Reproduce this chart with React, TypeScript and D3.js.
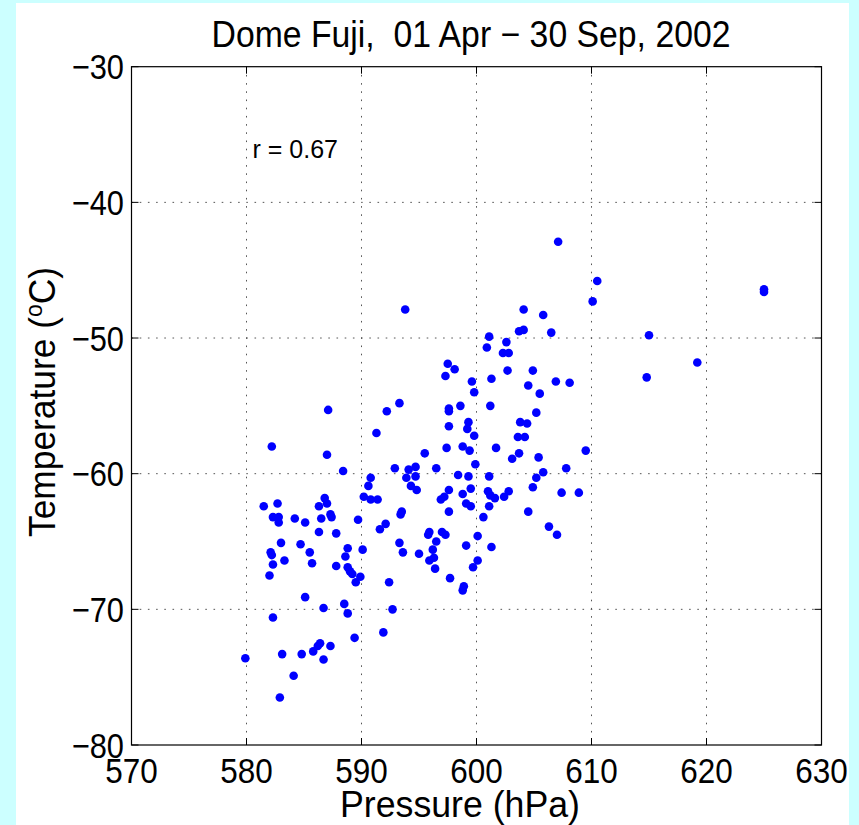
import React from "react";
import * as d3 from "d3";

const pressure = [
  591.3, 582.2, 587.0, 595.5, 588.4, 592.9, 594.1, 594.7, 593.9, 594.7,
  590.8, 590.6, 594.3, 594.8, 590.2, 590.8, 591.4, 586.8, 587.0, 582.7,
  581.5, 586.3, 593.5, 593.4, 582.3, 582.8, 582.8, 584.2, 585.1, 586.5,
  587.3, 587.4, 589.7, 592.1, 591.6, 595.9, 595.8, 586.3, 587.8, 583.0,
  584.7, 582.1, 582.2, 585.5, 588.8, 588.6, 590.1, 593.3, 593.6, 595.0,
  595.9, 583.3, 582.3, 585.7, 587.8, 588.8, 589.0, 589.2, 589.9, 589.5,
  582.0, 592.4, 585.1, 588.5, 586.7, 588.8, 592.7, 582.3, 591.9, 589.4,
  586.4, 586.2, 587.3, 585.8, 583.1, 584.8, 579.9, 586.7, 584.1, 582.9,
  593.8, 587.1, 592.2, 593.3,
  607.1, 610.5, 610.1, 604.1, 605.8, 603.7, 604.1, 606.5, 601.1, 602.6,
  600.9, 602.3, 602.8, 597.5, 598.1, 597.3, 602.7, 604.9, 601.3, 599.6,
  599.8, 604.5, 606.9, 608.1, 605.5, 598.6, 597.6, 597.6, 601.2, 605.2,
  599.3, 599.2, 597.6, 603.8, 604.4, 599.8, 603.6, 604.2, 598.8, 599.4,
  597.4, 601.7, 603.7, 603.1, 605.4, 609.5, 599.9, 596.5, 607.8, 598.4,
  599.3, 601.1, 605.8, 605.2,
  604.9, 597.6, 597.2, 596.9, 598.8, 599.5, 601.0, 601.2, 601.6, 602.4,
  602.8, 607.4, 608.9, 599.1, 599.5, 601.1, 597.6, 600.6, 604.5, 606.3,
  607.0, 597.0, 597.3, 600.1, 596.5, 599.1, 601.3, 596.2, 596.3, 600.1,
  599.7, 596.4, 597.7, 598.9, 598.8,
  615.0, 619.2, 614.8, 625.0, 625.0,
];

const temperature = [
  -57.0, -58.0, -58.6, -58.5, -59.8, -59.6, -59.7, -59.5, -60.3, -60.2,
  -60.3, -60.9, -60.9, -61.2, -61.7, -61.9, -61.9, -61.8, -62.2, -62.2,
  -62.4, -62.4, -62.8, -63.0, -63.2, -63.2, -63.6, -63.3, -63.6, -63.3,
  -63.0, -63.2, -63.4, -63.7, -64.1, -64.3, -64.5, -64.3, -64.4, -65.1,
  -65.2, -65.8, -66.0, -65.8, -65.5, -66.1, -65.6, -65.1, -65.8, -65.9,
  -66.4, -66.4, -66.7, -66.6, -66.8, -66.9, -67.2, -67.4, -67.6, -68.0,
  -67.5, -68.0, -69.1, -69.6, -69.9, -70.3, -70.0, -70.6, -71.7, -72.1,
  -72.5, -72.7, -72.7, -73.1, -73.3, -73.3, -73.6, -73.7, -74.9, -76.5,
  -47.9, -55.3, -55.4, -54.8,
  -42.9, -45.8, -47.3, -47.9, -48.3, -49.5, -49.4, -49.6, -49.9, -50.3,
  -50.7, -51.1, -51.1, -51.9, -52.3, -52.8, -52.4, -52.4, -53.0, -53.2,
  -54.0, -53.5, -53.2, -53.3, -54.1, -55.0, -55.2, -55.4, -55.0, -55.5,
  -56.2, -56.7, -56.5, -56.2, -56.3, -57.2, -57.3, -57.3, -58.0, -58.3,
  -58.1, -58.1, -58.5, -58.9, -58.8, -58.3, -59.3, -59.6, -59.6, -60.1,
  -60.2, -60.2, -59.9, -60.3,
  -61.0, -61.2, -61.7, -61.9, -61.5, -61.1, -61.3, -61.6, -61.8, -61.7,
  -61.3, -61.4, -61.4, -62.2, -62.4, -62.4, -62.8, -63.2, -62.8, -63.9,
  -64.5, -64.3, -64.5, -64.6, -65.0, -65.3, -65.4, -65.6, -66.2, -66.4,
  -66.9, -67.0, -67.7, -68.3, -68.6,
  -49.8, -51.8, -52.9, -46.6, -46.4,
];

const xTicks = [570, 580, 590, 600, 610, 620, 630];
const yTicks = [-30, -40, -50, -60, -70, -80];
const xTickLabels = ["570", "580", "590", "600", "610", "620", "630"];
const yTickLabels = ["\u221230", "\u221240", "\u221250", "\u221260", "\u221270", "\u221280"];

const titleText = "Dome Fuji,  01 Apr \u2212 30 Sep, 2002";
const xLabel = "Pressure (hPa)";
const corrText = "r = 0.67";

const W = 859;
const H = 825;
const L = 131.5, R = 821.5, T = 66.7, B = 745;
const FONT = "'Liberation Sans', Arial, Helvetica, sans-serif";

export default function App() {
  const x = d3.scaleLinear().domain([570, 630]).range([L, R]);
  const y = d3.scaleLinear().domain([-80, -30]).range([B, T]);
  const tickLen = 7;
  const grid = { stroke: "#555", strokeWidth: 1, strokeDasharray: "1.6 6.6" };

  return (
    <svg
      width={W}
      height={H}
      style={{ position: "absolute", left: 0, top: 0, display: "block" }}
    >
      <rect x={0} y={0} width={W} height={H} fill="#ccffff" />
      <rect x={16} y={3} width={833} height={H - 3} fill="#ffffff" />

      {/* grid */}
      {xTicks.slice(1, -1).map((t) => (
        <line key={"gx" + t} x1={x(t)} x2={x(t)} y1={T} y2={B} {...grid} />
      ))}
      {yTicks.slice(1, -1).map((t) => (
        <line key={"gy" + t} x1={L} x2={R} y1={y(t)} y2={y(t)} {...grid} />
      ))}

      {/* ticks inside, all four sides */}
      {xTicks.map((t) => (
        <g key={"tx" + t} stroke="#000" strokeWidth={1}>
          <line x1={x(t)} x2={x(t)} y1={B} y2={B - tickLen} />
          <line x1={x(t)} x2={x(t)} y1={T} y2={T + tickLen} />
        </g>
      ))}
      {yTicks.map((t) => (
        <g key={"ty" + t} stroke="#000" strokeWidth={1}>
          <line x1={L} x2={L + tickLen} y1={y(t)} y2={y(t)} />
          <line x1={R} x2={R - tickLen} y1={y(t)} y2={y(t)} />
        </g>
      ))}

      {/* frame */}
      <rect x={L} y={T} width={R - L} height={B - T} fill="none" stroke="#000" strokeWidth={1.2} />

      {/* points */}
      {pressure.map((p, i) => (
        <circle key={"p" + i} cx={x(p)} cy={y(temperature[i])} r={4.3} fill="#0000ff" />
      ))}

      {/* tick labels */}
      {xTicks.map((t, i) => (
        <text
          key={"lx" + t}
          transform={`translate(${x(t)},783) scale(0.9,1)`}
          textAnchor="middle"
          fontFamily={FONT}
          fontSize={35}
          fill="#000"
        >
          {xTickLabels[i]}
        </text>
      ))}
      {yTicks.map((t, i) => (
        <text
          key={"ly" + t}
          transform={`translate(124,${y(t) + 12.5}) scale(0.88,1)`}
          textAnchor="end"
          fontFamily={FONT}
          fontSize={35}
          fill="#000"
        >
          {yTickLabels[i]}
        </text>
      ))}

      {/* title */}
      <text
        x={471}
        y={47}
        textAnchor="middle"
        fontFamily={FONT}
        fontSize={37}
        textLength={519}
        lengthAdjust="spacingAndGlyphs"
        style={{ whiteSpace: "pre" }}
        fill="#000"
      >
        {titleText}
      </text>

      {/* x label */}
      <text
        x={460}
        y={817}
        textAnchor="middle"
        fontFamily={FONT}
        fontSize={37}
        textLength={240}
        lengthAdjust="spacingAndGlyphs"
        fill="#000"
      >
        {xLabel}
      </text>

      {/* y label */}
      <text
        transform={`translate(55,402) rotate(-90)`}
        textAnchor="middle"
        fontFamily={FONT}
        fontSize={37}
        fill="#000"
        textLength={270}
        lengthAdjust="spacingAndGlyphs"
      >
        Temperature (
        <tspan fontSize={24} dy={-13}>o</tspan>
        <tspan dy={13}>C)</tspan>
      </text>

      {/* correlation */}
      <text x={252.5} y={158} fontFamily={FONT} fontSize={25} fill="#000">
        {corrText}
      </text>
    </svg>
  );
}
